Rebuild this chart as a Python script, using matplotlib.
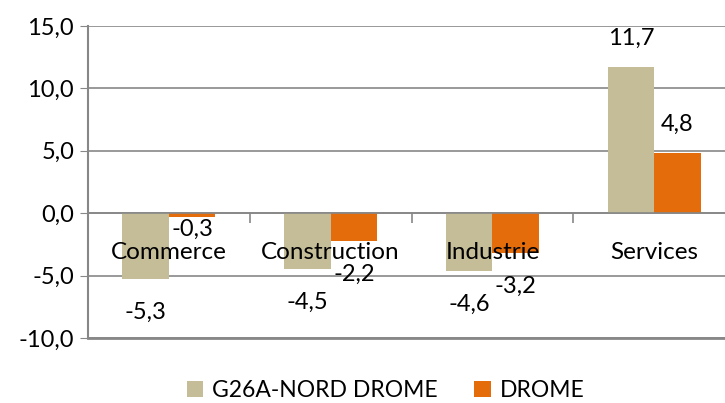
import numpy as np
import matplotlib
matplotlib.use('Agg')
import matplotlib.pyplot as plt

plt.rcParams['font.family'] = ['Lato', 'DejaVu Sans']

categories = ['Commerce', 'Construction', 'Industrie', 'Services']
series_names = ['G26A-NORD DROME', 'DROME']
nord_drome = [-5.3, -4.5, -4.6, 11.7]
drome = [-0.3, -2.2, -3.2, 4.8]
y_ticks = [-10, -5, 0, 5, 10, 15]

colors = ['#C4BD97', '#E46C0A']
grid_col = '#878787'

fig = plt.figure(figsize=(7.25, 4.03), dpi=100)
ax = fig.add_axes([88 / 725, 65 / 403, 647 / 725, 312 / 403])

x = np.arange(len(categories))
w = 0.2875
for i, (vals, name) in enumerate(zip([nord_drome, drome], series_names)):
    xs = x + (i - 0.5) * w
    ax.bar(xs, vals, width=w, color=colors[i], label=name, zorder=3)
    for xi, v in zip(xs, vals):
        txt = ('%.1f' % v).replace('.', ',')
        if v >= 0:
            off = 21
        elif abs(v) < 1:
            off = -9
        else:
            off = -24
        ax.annotate(txt, (xi, v), xytext=(0, off), textcoords='offset points',
                    ha='center', va='center', fontsize=17, color='black', zorder=6)

# category names drawn over the bars, just under the zero line
for xi, cat in zip(x, categories):
    ax.annotate(cat, (xi, 0), xytext=(0, -28), textcoords='offset points',
                ha='center', va='center', fontsize=17.5, color='black', zorder=6)

ax.set_xlim(-0.5, 3.5)
ax.set_ylim(-10, 15)
ax.set_yticks(y_ticks)
ax.set_yticklabels([('%.1f' % t).replace('.', ',') for t in y_ticks], fontsize=17)
ax.yaxis.grid(True, color=grid_col, linewidth=1.2, zorder=0)
ax.tick_params(axis='y', length=6, color=grid_col, pad=4)

# x axis sits on the zero line
for s in ['top', 'right']:
    ax.spines[s].set_visible(False)
ax.spines['bottom'].set_position(('data', 0))
ax.spines['bottom'].set_color(grid_col)
ax.spines['bottom'].set_linewidth(1.2)
ax.spines['bottom'].set_zorder(4)
ax.spines['left'].set_color(grid_col)
ax.spines['left'].set_linewidth(1.5)
ax.set_xticks(x)
ax.set_xticklabels([])
ax.tick_params(axis='x', which='major', length=0)
ax.set_xticks(x[:-1] + 0.5, minor=True)
ax.tick_params(axis='x', which='minor', length=7, color=grid_col, width=1.2)
ax.axhline(-10, color=grid_col, linewidth=2, zorder=1, clip_on=False)

fig.legend(loc='center', bbox_to_anchor=(0.532, 0.03), ncol=2, frameon=False,
           fontsize=16.5, handlelength=0.7, handleheight=0.7, handletextpad=0.4,
           columnspacing=1.6)

fig.savefig('out.png', dpi=100)
